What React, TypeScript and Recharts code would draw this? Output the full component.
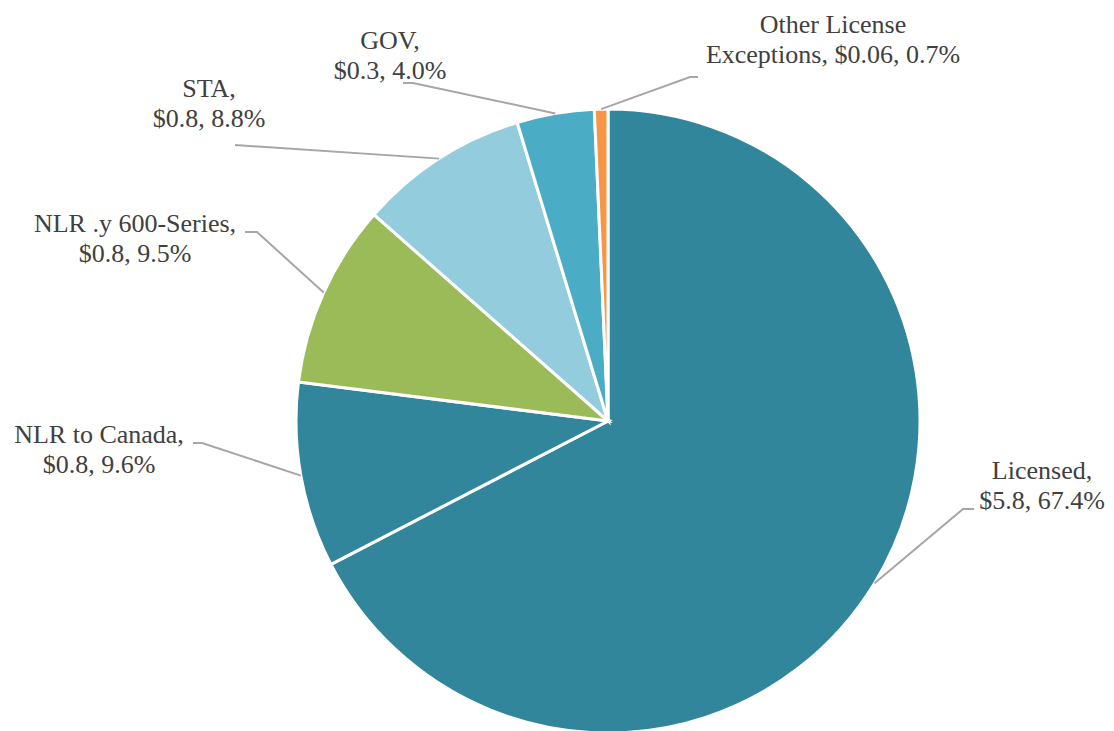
import { PieChart, Pie, Cell } from "recharts";

const CATEGORIES = [
  ["Licensed,"],
  ["NLR to Canada,"],
  ["NLR .y 600-Series,"],
  ["STA,"],
  ["GOV,"],
  ["Other License"],
];
const DOLLARS = ["$5.8", "$0.8", "$0.8", "$0.8", "$0.3", "$0.06"];
const SHARES = [67.4, 9.6, 9.5, 8.8, 4.0, 0.7];
const COLORS = ["#31869B", "#31869B", "#9BBB59", "#93CDDD", "#4BACC6", "#F79646"];

// hand placed label boxes, offsets from the pie centre
// [text centre x, first baseline y, elbow x, elbow y, end x]
const LABEL_LAYOUT = [
  [434, 58, 355, 88, 366],
  [-509, 22, -406, 22, -415],
  [-473, -189, -351, -189, -363],
  [-399, -324, -373, -276, -373],
  [-218, -372, -195, -338, -205],
  [225, -388, 82, -344, 90],
];

const data = SHARES.map((v, i) => ({ name: CATEGORIES[i][0], value: v, dollars: DOLLARS[i] }));

const RAD = Math.PI / 180;
const SERIF = "Liberation Serif, Times New Roman, serif";

function renderLabel(props: any) {
  const { cx, cy, midAngle, outerRadius, index } = props;
  const [tx, ty, ex, ey, endX] = LABEL_LAYOUT[index];
  const sx = cx + outerRadius * Math.cos(-midAngle * RAD);
  const sy = cy + outerRadius * Math.sin(-midAngle * RAD);
  const pct = SHARES[index].toFixed(1) + "%";
  const line1 = CATEGORIES[index][0];
  let line2 = `${DOLLARS[index]}, ${pct}`;
  if (index === 5) line2 = `Exceptions, ${DOLLARS[index]}, ${pct}`;
  return (
    <g key={`lbl-${index}`}>
      <polyline
        points={`${sx},${sy} ${cx + ex},${cy + ey} ${cx + endX},${cy + ey}`}
        fill="none"
        stroke="#A6A6A6"
        strokeWidth={2}
      />
      <text
        x={cx + tx}
        y={cy + ty}
        textAnchor="middle"
        fill="#404040"
        fontFamily={SERIF}
        fontSize={26}
      >
        <tspan x={cx + tx}>{line1}</tspan>
        <tspan x={cx + tx} dy={30}>{line2}</tspan>
      </text>
    </g>
  );
}

export default function App() {
  return (
    <div style={{ position: "absolute", left: 0, top: 0, width: 1114, height: 731, background: "#fff" }}>
      <PieChart width={1114} height={731} margin={{ top: 0, right: 0, bottom: 0, left: 0 }}>
        <Pie
          data={data}
          dataKey="value"
          nameKey="name"
          cx={608}
          cy={421}
          outerRadius={312}
          startAngle={90}
          endAngle={-270}
          stroke="#fff"
          strokeWidth={3}
          label={renderLabel}
          labelLine={false}
          isAnimationActive={false}
        >
          {data.map((d, i) => (
            <Cell key={d.name} fill={COLORS[i]} />
          ))}
        </Pie>
      </PieChart>
    </div>
  );
}
